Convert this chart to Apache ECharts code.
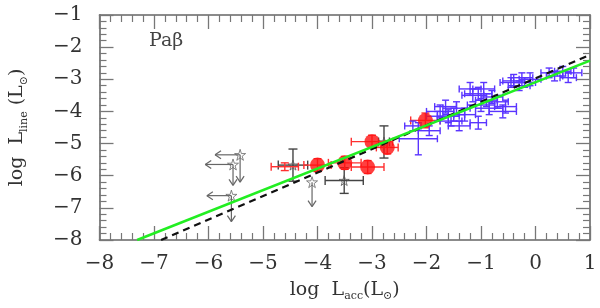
<!DOCTYPE html>
<html><head><meta charset="utf-8">
<script src="https://cdn.jsdelivr.net/npm/echarts@6/dist/echarts.min.js"></script>
<style>html,body{margin:0;padding:0;background:#fff}#c{width:600px;height:308px}</style>
</head><body><div id="c"></div>
<script>
// ---- data (log L_acc, log L_line, x error, y error) ----
var blueX  = [-2.15,-1.95,-2.25,-1.75,-1.6,-1.45,-1.55,-1.3,-1.2,-1.05,-0.95,-1.0,-0.85,-0.7,-0.6,-1.05,-0.8,-0.4,-0.25,-0.3,-0.1,0.25,0.5,0.7,0.6,-1.4,-1.8,-1.65,-1.15,-0.9,-0.55,-0.45,-0.2,0.35,-1.5];
var blueY  = [-4.85,-4.6,-4.45,-4.0,-4.15,-3.9,-4.3,-4.1,-3.3,-3.45,-3.3,-3.8,-3.9,-3.7,-4.0,-4.35,-3.55,-3.05,-2.95,-3.2,-3.0,-2.8,-2.75,-2.8,-2.95,-4.45,-4.15,-3.85,-3.5,-3.65,-3.85,-3.1,-3.1,-2.9,-4.1];
var blueXe = [0.35,0.2,0.15,0.25,0.2,0.25,0.2,0.2,0.2,0.25,0.2,0.25,0.25,0.2,0.25,0.15,0.2,0.2,0.2,0.2,0.2,0.15,0.15,0.15,0.15,0.2,0.2,0.2,0.2,0.2,0.2,0.2,0.2,0.15,0.2];
var blueYe = [0.5,0.15,0.15,0.2,0.2,0.2,0.15,0.2,0.2,0.2,0.2,0.2,0.2,0.2,0.2,0.2,0.2,0.2,0.15,0.15,0.2,0.15,0.15,0.15,0.15,0.15,0.15,0.2,0.2,0.2,0.2,0.15,0.15,0.15,0.2];

var redX  = [-4.0,-3.5,-3.08,-3.0,-2.72,-2.02];
var redY  = [-5.67,-5.6,-5.73,-4.94,-5.12,-4.28];
var redXe = [0.25,0.3,0.3,0.38,0.2,0.27];
var redYe = [0.2,0.2,0.2,0.2,0.2,0.23];

var redOpenX = [-4.6], redOpenY = [-5.72], redOpenXe = [0.25], redOpenYe = [0.12];

var greyX  = [-4.45,-3.51,-2.78];
var greyY  = [-5.67,-6.15,-4.95];
var greyXe = [0.27,0.35,0.1];
var greyYe = [0.5,0.4,0.5];

// upper limits: star position and arrow end points
var limX     = [-4.1,-5.42,-5.55,-5.58];
var limY     = [-6.2,-5.35,-5.65,-6.62];
var limLeftX = [null,-5.88,-6.06,-6.03];
var limDownY = [-6.96,-6.2,-6.3,-7.43];

var greenX = [-7.31, 1.0], greenY = [-8.0, -2.42];
var dashX  = [-6.87, 1.0], dashY  = [-8.0, -2.24];

var xTicks = [-8,-7,-6,-5,-4,-3,-2,-1,0,1];
var yTicks = [-8,-7,-6,-5,-4,-3,-2,-1];

// ---- helpers ----
function rows(){ var a=arguments, out=[]; for(var i=0;i<a[0].length;i++){var r=[];for(var k=0;k<a.length;k++)r.push(a[k][i]);out.push(r);} return out; }
function fmt(v){ return (v<0?'\u2212':'')+Math.abs(v); }
var FONT = 'DejaVu Serif';

function errItem(color, cap, lw){
  return function(params, api){
    var x=api.value(0), y=api.value(1), xe=api.value(2), ye=api.value(3);
    var L=api.coord([x-xe,y]), R=api.coord([x+xe,y]), T=api.coord([x,y+ye]), B=api.coord([x,y-ye]);
    var h=cap/2, st={stroke:color,lineWidth:lw};
    function ln(a,b,c,d){return {type:'line',shape:{x1:a,y1:b,x2:c,y2:d},style:st};}
    return {type:'group',children:[
      ln(L[0],L[1],R[0],R[1]), ln(T[0],T[1],B[0],B[1]),
      ln(L[0],L[1]-h,L[0],L[1]+h), ln(R[0],R[1]-h,R[0],R[1]+h),
      ln(T[0]-h,T[1],T[0]+h,T[1]), ln(B[0]-h,B[1],B[0]+h,B[1])
    ]};
  };
}
function limItem(params, api){
  var x=api.value(0), y=api.value(1), xl=api.value(2), yd=api.value(3);
  var P=api.coord([x,y]), st={stroke:'#666',lineWidth:1.2}, ch=[];
  function ln(a,b,c,d){ch.push({type:'line',shape:{x1:a,y1:b,x2:c,y2:d},style:st});}
  if(xl!=null && !isNaN(xl)){ var E=api.coord([xl,y]); ln(P[0],P[1],E[0],E[1]); ln(E[0],E[1],E[0]+6,E[1]-4); ln(E[0],E[1],E[0]+6,E[1]+4); }
  if(yd!=null && !isNaN(yd)){ var D=api.coord([x,yd]); ln(P[0],P[1],D[0],D[1]); ln(D[0],D[1],D[0]-4,D[1]-6); ln(D[0],D[1],D[0]+4,D[1]-6); }
  return {type:'group',children:ch};
}
var star = 'path://M50,0 L61,35 L98,35 L68,57 L79,91 L50,70 L21,91 L32,57 L2,35 L39,35 Z';

function axisCommon(){
  return {
    min:null, max:null, interval:1,
    axisLine:{show:true,onZero:false,lineStyle:{color:'#666',width:1.6}},
    axisTick:{show:true,inside:true,length:14,lineStyle:{color:'#777',width:1.3}},
    minorTick:{show:true,splitNumber:5,length:7,lineStyle:{color:'#777',width:1.2}},
    splitLine:{show:false},
    axisLabel:{fontFamily:FONT,fontSize:20,color:'#333',formatter:fmt}
  };
}
var xa0 = axisCommon(); xa0.type='value'; xa0.min=xTicks[0]; xa0.max=xTicks[xTicks.length-1]; xa0.position='bottom';
xa0.axisLabel.margin=14;
xa0.name='{n|log  L}{s|acc}{n|(L}{s|\u2299}{n|)}'; xa0.nameLocation='middle'; xa0.nameGap=38;
xa0.nameTextStyle={rich:{n:{fontFamily:FONT,fontSize:19,color:'#333',lineHeight:24},s:{fontFamily:FONT,fontSize:11,color:'#333',lineHeight:12,verticalAlign:'bottom'}}};
var xa1 = axisCommon(); xa1.type='value'; xa1.min=xa0.min; xa1.max=xa0.max; xa1.position='top'; xa1.axisLabel={show:false};
var ya0 = axisCommon(); ya0.type='value'; ya0.min=yTicks[0]; ya0.max=yTicks[yTicks.length-1]; ya0.position='left';
ya0.axisLabel.margin=17;
ya0.name='{n|log  L}{s|line}{n| (L}{s|\u2299}{n|)}'; ya0.nameLocation='middle'; ya0.nameGap=70;
ya0.nameTextStyle={rich:{n:{fontFamily:FONT,fontSize:19,color:'#333',lineHeight:24},s:{fontFamily:FONT,fontSize:11,color:'#333',lineHeight:12,verticalAlign:'bottom'}}};
var ya1 = axisCommon(); ya1.type='value'; ya1.min=ya0.min; ya1.max=ya0.max; ya1.position='right'; ya1.axisLabel={show:false};

var chart = echarts.init(document.getElementById('c'), null, {renderer:'canvas'});
chart.setOption({
  animation:false,
  backgroundColor:'#fff',
  grid:{left:95,right:10,top:15,bottom:68,containLabel:false},
  xAxis:[xa0,xa1],
  yAxis:[ya0,ya1],
  graphic:[{type:'text',left:149,top:32,style:{text:'Pa\u03b2',font:'19px "DejaVu Serif"',fill:'#444'}}],
  series:[
    {type:'custom',name:'grey err',renderItem:errItem('#444',9,1.4),data:rows(greyX,greyY,greyXe,greyYe),encode:{x:0,y:1},z:2},
    {type:'scatter',name:'grey',data:rows(greyX,greyY),symbol:star,symbolSize:10,itemStyle:{color:'rgba(255,255,255,0)',borderColor:'#555',borderWidth:1},z:3},
    {type:'custom',name:'limits',renderItem:limItem,data:rows(limX,limY,limLeftX,limDownY),encode:{x:0,y:1},z:2},
    {type:'scatter',name:'lim stars',data:rows(limX,limY),symbol:star,symbolSize:11,itemStyle:{color:'rgba(255,255,255,0)',borderColor:'#666',borderWidth:1},z:3},
    {type:'custom',name:'red open err',renderItem:errItem('#ff3030',8,1.4),data:rows(redOpenX,redOpenY,redOpenXe,redOpenYe),encode:{x:0,y:1},z:4},
    {type:'custom',name:'red err',renderItem:errItem('#ff3030',8,1.4),data:rows(redX,redY,redXe,redYe),encode:{x:0,y:1},z:4},
    {type:'scatter',name:'red',data:rows(redX,redY),symbol:'circle',symbolSize:15,itemStyle:{color:'#ff1010'},z:5},
    {type:'custom',name:'blue err',renderItem:errItem('#5a35ff',7,1.4),data:rows(blueX,blueY,blueXe,blueYe),encode:{x:0,y:1},z:4},
    {type:'line',name:'dash',data:rows(dashX,dashY),symbol:'none',lineStyle:{color:'#111',width:2.2,type:[7,5]},z:6},
    {type:'line',name:'fit',data:rows(greenX,greenY),symbol:'none',lineStyle:{color:'#22ee22',width:2.6},z:7}
  ]
});
</script></body></html>
